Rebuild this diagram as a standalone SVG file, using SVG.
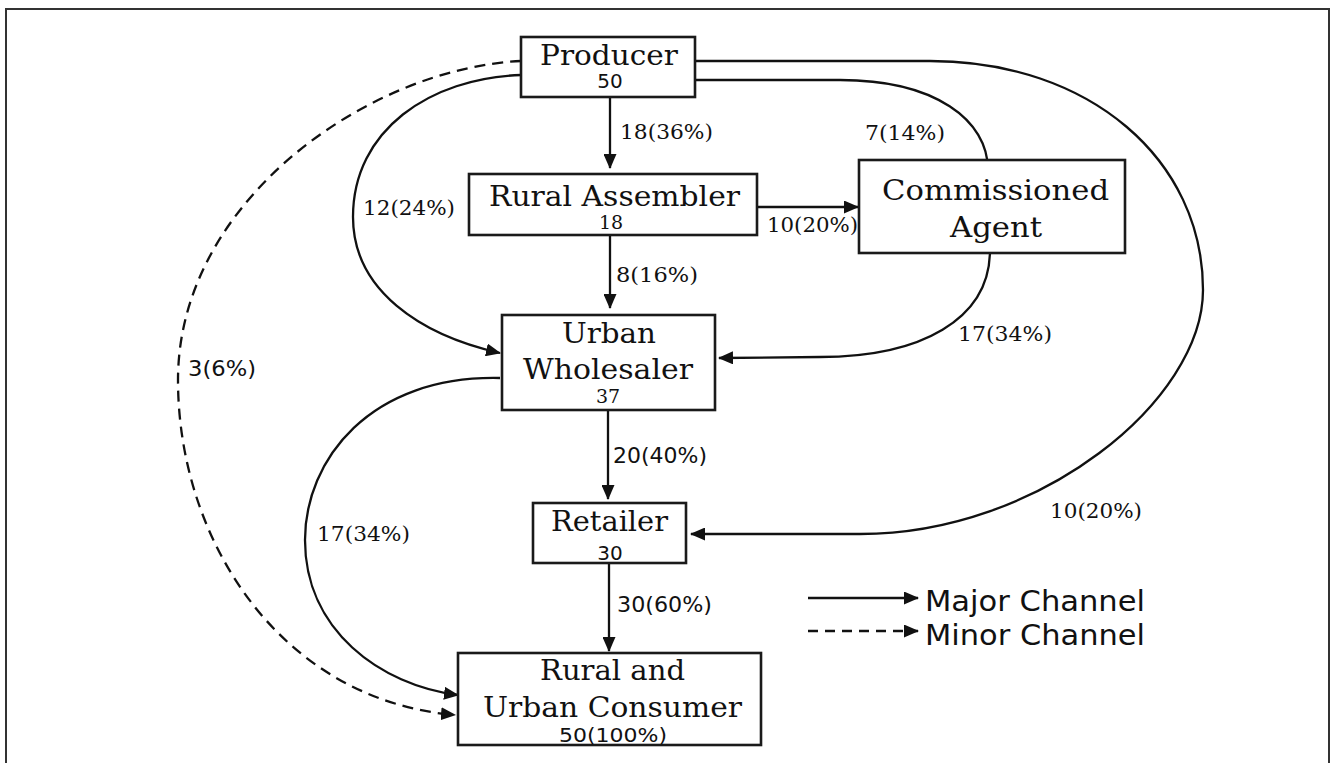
<svg xmlns="http://www.w3.org/2000/svg" width="1330" height="763" viewBox="0 0 1330 763">
<style>
.box{fill:#fff;stroke:#1a1a1a;stroke-width:2.6}
.lbl{font-family:"DejaVu Serif","Liberation Serif",serif;font-size:27px;fill:#111;text-anchor:middle}
.num{font-family:"DejaVu Serif","Liberation Serif",serif;font-size:19px;fill:#111;text-anchor:middle}
.nums{font-family:"DejaVu Sans","Liberation Sans",sans-serif;font-size:20px;fill:#111;text-anchor:middle}
.el{font-family:"DejaVu Serif","Liberation Serif",serif;font-size:21px;fill:#111}
.els{font-family:"DejaVu Sans","Liberation Sans",sans-serif;font-size:22px;fill:#111}
.leg{font-family:"DejaVu Sans","Liberation Sans",sans-serif;font-size:29px;fill:#111}
.c{fill:none;stroke:#111;stroke-width:2.3}
.d{stroke-dasharray:11,7}
</style>
<defs>
<marker id="ah" markerUnits="userSpaceOnUse" markerWidth="15" markerHeight="13" refX="14" refY="6.5" orient="auto">
<path d="M0,0 L15,6.5 L0,13 Z" fill="#111"/>
</marker>
</defs>
<rect x="6" y="9" width="1323" height="770" fill="#fff" stroke="#333" stroke-width="2"/>
<g id="connectors">
<path class="c" d="M610,97 L610,168" marker-end="url(#ah)"/>
<path class="c" d="M757,207 L858,207" marker-end="url(#ah)"/>
<path class="c" d="M610,235 L610,308" marker-end="url(#ah)"/>
<path class="c" d="M608,410 L608,499" marker-end="url(#ah)"/>
<path class="c" d="M609,563 L609,651" marker-end="url(#ah)"/>
<path class="c" d="M521,75 C430,78 353,130 353,217 C353,290 420,335 500,353" marker-end="url(#ah)"/>
<path class="c d" d="M521,61 C370,68 178,200 178,380 C178,540 280,700 455,715" marker-end="url(#ah)"/>
<path class="c" d="M500,378 C370,375 305,460 305,540 C305,630 380,685 458,695" marker-end="url(#ah)"/>
<path class="c" d="M695,80 L840,80 C935,80 988,120 988,170 L990,250 C990,320 920,357 820,357 L719,358" marker-end="url(#ah)"/>
<path class="c" d="M695,61 L930,61 C1090,61 1203,160 1203,290 C1203,400 1040,534 860,534 L691,534" marker-end="url(#ah)"/>
<text class="el" x="620" y="139" textLength="93" lengthAdjust="spacingAndGlyphs">18(36%)</text>
<text class="el" x="363" y="215" textLength="92" lengthAdjust="spacingAndGlyphs">12(24%)</text>
<text class="el" x="865" y="140" textLength="80" lengthAdjust="spacingAndGlyphs">7(14%)</text>
<text class="el" x="767" y="232" textLength="91" lengthAdjust="spacingAndGlyphs">10(20%)</text>
<text class="el" x="616" y="282" textLength="82" lengthAdjust="spacingAndGlyphs">8(16%)</text>
<text class="el" x="958" y="341" textLength="94" lengthAdjust="spacingAndGlyphs">17(34%)</text>
<text class="els" x="188" y="376" textLength="68" lengthAdjust="spacingAndGlyphs">3(6%)</text>
<text class="els" x="613" y="463" textLength="94" lengthAdjust="spacingAndGlyphs">20(40%)</text>
<text class="el" x="317" y="541" textLength="93" lengthAdjust="spacingAndGlyphs">17(34%)</text>
<text class="el" x="1050" y="518" textLength="92" lengthAdjust="spacingAndGlyphs">10(20%)</text>
<text class="els" x="617" y="612" textLength="95" lengthAdjust="spacingAndGlyphs">30(60%)</text>
</g>
<g id="producer">
<rect class="box" x="521" y="37" width="174" height="60"/>
<text class="lbl" x="609" y="65" textLength="138" lengthAdjust="spacingAndGlyphs">Producer</text>
<text class="nums" x="610" y="88">50</text>
</g>
<g id="rural-assembler">
<rect class="box" x="469" y="174" width="288" height="61"/>
<text class="lbl" x="614.5" y="206" textLength="251" lengthAdjust="spacingAndGlyphs">Rural Assembler</text>
<text class="num" x="611" y="229">18</text>
</g>
<g id="commissioned-agent">
<rect class="box" x="859" y="160" width="266" height="93"/>
<text class="lbl" x="995.5" y="200" textLength="227" lengthAdjust="spacingAndGlyphs">Commissioned</text>
<text class="lbl" x="996" y="237" textLength="92" lengthAdjust="spacingAndGlyphs">Agent</text>
</g>
<g id="urban-wholesaler">
<rect class="box" x="502" y="315" width="213" height="95"/>
<text class="lbl" x="609" y="343" textLength="94" lengthAdjust="spacingAndGlyphs">Urban</text>
<text class="lbl" x="608" y="379" textLength="170" lengthAdjust="spacingAndGlyphs">Wholesaler</text>
<text class="num" x="608" y="403">37</text>
</g>
<g id="retailer">
<rect class="box" x="533" y="503" width="153" height="60"/>
<text class="lbl" x="609.5" y="531" textLength="117" lengthAdjust="spacingAndGlyphs">Retailer</text>
<text class="nums" x="610" y="560">30</text>
</g>
<g id="consumer">
<rect class="box" x="458" y="653" width="303" height="92"/>
<text class="lbl" x="612.5" y="680" textLength="145" lengthAdjust="spacingAndGlyphs">Rural and</text>
<text class="lbl" x="612.5" y="717" textLength="259" lengthAdjust="spacingAndGlyphs">Urban Consumer</text>
<text class="nums" x="613" y="742" textLength="108" lengthAdjust="spacingAndGlyphs">50(100%)</text>
</g>
<g id="legend">
<path class="c" d="M808,598 L918,598" marker-end="url(#ah)"/>
<path class="c" d="M808,631 L918,631" stroke-dasharray="10,7" marker-end="url(#ah)"/>
<text class="leg" x="925" y="611" textLength="220" lengthAdjust="spacingAndGlyphs">Major Channel</text>
<text class="leg" x="925" y="645" textLength="220" lengthAdjust="spacingAndGlyphs">Minor Channel</text>
</g>
</svg>
